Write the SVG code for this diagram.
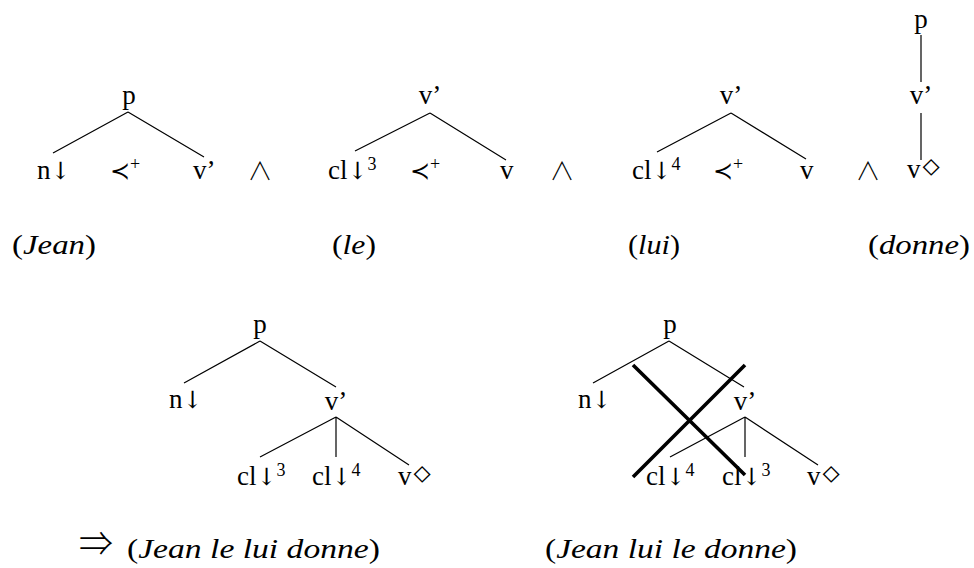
<svg xmlns="http://www.w3.org/2000/svg" width="974" height="568" viewBox="0 0 974 568">
<style>
text{font-family:"Liberation Serif","DejaVu Serif",serif;font-size:27px;fill:#000}
.sym{font-family:"Noto Sans CJK JP","DejaVu Sans",sans-serif;font-weight:300;font-size:24px}
.arr{font-family:"DejaVu Serif","DejaVu Sans",serif;font-size:24px}
.wedge{font-family:"Noto Sans CJK JP","DejaVu Sans",sans-serif;font-weight:300;font-size:25px}
.dia{font-family:"DejaVu Sans ExtraLight","DejaVu Sans",sans-serif;font-weight:200;font-size:34px}
.imp{font-family:"Noto Sans CJK JP","DejaVu Sans",sans-serif;font-weight:300;font-size:34px}
.sup{font-size:18px}
.it{font-style:italic}
.big{font-size:28px}
.edge{stroke:#000;stroke-width:1.2;fill:none}
.cross{stroke:#000;stroke-width:3.6;fill:none}
</style>
<rect width="974" height="568" fill="#fff"/>
<g id="connectors">
<path class="edge" d="M128 112L53 153M128 112L204 157"/>
<path class="edge" d="M430 113L355 151M430 113L506 160"/>
<path class="edge" d="M731 113L657 152M731 113L806 159"/>
<path class="edge" d="M921 35V82M921 113V160"/>
<path class="edge" d="M260 341L184 383M260 341L336 387M336 417L260 457M336 417V457M336 417L409 465"/>
<path class="edge" d="M669 341L593 383M669 341L744 387M745 417L670 457M745 417V457M745 417L818 465"/>
<path class="cross" d="M633 365L745 475M745 365L633 477"/>
</g>
<g id="tree1">
<text x="129" y="104" text-anchor="middle">p</text>
<text x="37" y="179">n<tspan class="arr">↓</tspan></text>
<text x="110" y="179"><tspan class="sym">≺</tspan><tspan class="sup" dy="-9">+</tspan></text>
<text x="193" y="179">v’</text>
</g>
<g id="and1"><text x="260" y="180" text-anchor="middle" class="wedge">∧</text></g>
<g id="tree2">
<text x="430" y="104" text-anchor="middle">v’</text>
<text x="328" y="179">cl<tspan class="arr">↓</tspan><tspan class="sup" dy="-9">3</tspan></text>
<text x="410" y="179"><tspan class="sym">≺</tspan><tspan class="sup" dy="-9">+</tspan></text>
<text x="500" y="179">v</text>
</g>
<g id="and2"><text x="562" y="180" text-anchor="middle" class="wedge">∧</text></g>
<g id="tree3">
<text x="731" y="104" text-anchor="middle">v’</text>
<text x="632" y="179">cl<tspan class="arr">↓</tspan><tspan class="sup" dy="-9">4</tspan></text>
<text x="713" y="179"><tspan class="sym">≺</tspan><tspan class="sup" dy="-9">+</tspan></text>
<text x="800" y="179">v</text>
</g>
<g id="and3"><text x="868" y="180" text-anchor="middle" class="wedge">∧</text></g>
<g id="tree4">
<text x="921" y="28" text-anchor="middle">p</text>
<text x="921" y="104" text-anchor="middle">v’</text>
<text x="907" y="178">v<tspan class="dia">⋄</tspan></text>
</g>
<g id="labels">
<text x="12" y="254" textLength="84" lengthAdjust="spacingAndGlyphs">(<tspan class="it">Jean</tspan>)</text>
<text x="332" y="254" textLength="44" lengthAdjust="spacingAndGlyphs">(<tspan class="it">le</tspan>)</text>
<text x="628" y="254" textLength="52" lengthAdjust="spacingAndGlyphs">(<tspan class="it">lui</tspan>)</text>
<text x="868" y="254" textLength="102" lengthAdjust="spacingAndGlyphs">(<tspan class="it">donne</tspan>)</text>
</g>
<g id="tree5">
<text x="260" y="333" text-anchor="middle">p</text>
<text x="169" y="408">n<tspan class="arr">↓</tspan></text>
<text x="336" y="410" text-anchor="middle">v’</text>
<text x="237" y="485">cl<tspan class="arr">↓</tspan><tspan class="sup" dy="-9">3</tspan></text>
<text x="312" y="485">cl<tspan class="arr">↓</tspan><tspan class="sup" dy="-9">4</tspan></text>
<text x="398" y="485">v<tspan class="dia">⋄</tspan></text>
</g>
<g id="tree6">
<text x="670" y="333" text-anchor="middle">p</text>
<text x="578" y="408">n<tspan class="arr">↓</tspan></text>
<text x="745" y="410" text-anchor="middle">v’</text>
<text x="646" y="485">cl<tspan class="arr">↓</tspan><tspan class="sup" dy="-9">4</tspan></text>
<text x="722" y="485">cl<tspan class="arr">↓</tspan><tspan class="sup" dy="-9">3</tspan></text>
<text x="807" y="485">v<tspan class="dia">⋄</tspan></text>
</g>
<g id="bottom">
<text x="79" y="556" class="imp">⇒</text>
<text x="127" y="558" class="big" textLength="253" lengthAdjust="spacingAndGlyphs">(<tspan class="it">Jean le lui donne</tspan>)</text>
<text x="545" y="558" class="big" textLength="252" lengthAdjust="spacingAndGlyphs">(<tspan class="it">Jean lui le donne</tspan>)</text>
</g>
</svg>
